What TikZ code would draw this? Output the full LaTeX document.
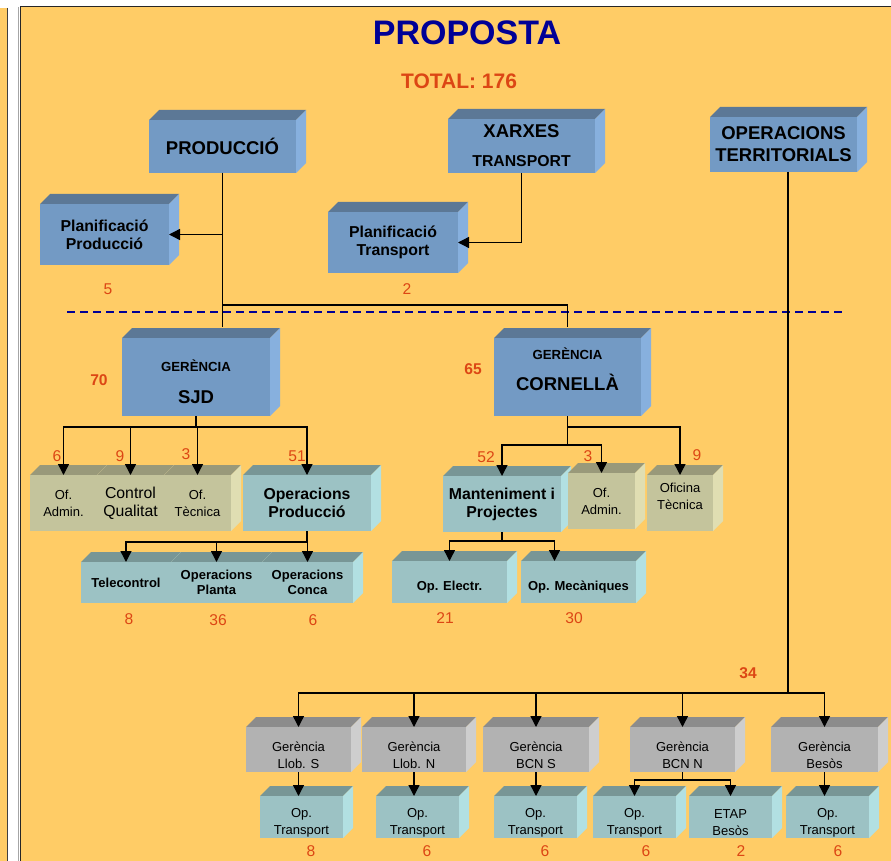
\documentclass[tikz,border=0pt]{standalone}
\usepackage{fontspec}
\setmainfont{Liberation Sans}
\usetikzlibrary{arrows.meta,backgrounds}

\definecolor{paper}{RGB}{255,204,102}
\definecolor{navy}{RGB}{0,0,150}
\definecolor{numred}{RGB}{220,70,20}
\definecolor{blufront}{RGB}{115,154,196}
\definecolor{blutop}{RGB}{92,120,150}
\definecolor{bluside}{RGB}{135,176,222}
\definecolor{khafront}{RGB}{196,196,156}
\definecolor{khatop}{RGB}{153,153,122}
\definecolor{khaside}{RGB}{224,222,178}
\definecolor{teafront}{RGB}{156,194,196}
\definecolor{teatop}{RGB}{120,150,150}
\definecolor{teaside}{RGB}{178,224,226}
\definecolor{gryfront}{RGB}{178,178,178}
\definecolor{grytop}{RGB}{140,140,140}
\definecolor{gryside}{RGB}{206,206,206}

\tikzset{
  unitbox/.style={inner sep=0pt, outer sep=0pt, anchor=north west, align=center},
  blu/.style={unitbox, fill=blufront},
  kha/.style={unitbox, fill=khafront},
  tea/.style={unitbox, fill=teafront},
  gry/.style={unitbox, fill=gryfront},
  fhead/.style={font=\bfseries\fontsize{18.5}{22}\selectfont},
  fsub/.style={font=\bfseries\fontsize{15.8}{18}\selectfont},
  fsmall/.style={font=\bfseries\fontsize{13}{15.5}\selectfont},
  fplain/.style={font=\fontsize{13}{17}\selectfont},
  headcount/.style={text=numred, font=\fontsize{15.6}{18}\selectfont},
  boldcount/.style={text=numred, font=\bfseries\fontsize{15.6}{18}\selectfont},
  link/.style={black, line width=1.4pt},
  arr/.style={link, -{Triangle[width=11pt,length=11pt]}}
}

\begin{document}
\begin{tikzpicture}[x=1pt, y=-1pt]
    \useasboundingbox (0,0) rectangle (891,861);

    % Title
    \node[text=navy, font=\bfseries\fontsize{34}{40}\selectfont] (title) at (467,33) {PROPOSTA};
    \node[text=numred, font=\bfseries\fontsize{21}{25}\selectfont] (total) at (459,81) {TOTAL: 176};

    % Direccions
    \node[blu, fhead, minimum width=147, minimum height=53] (prod) at (149,120) {PRODUCCIÓ};
    \node[blu, fhead, minimum width=147, minimum height=54] (xarx) at (448,119) {XARXES\\[7pt]{\fontsize{15.8}{18}\selectfont TRANSPORT}};
    \node[blu, fhead, minimum width=147, minimum height=55] (opter) at (710,117) {OPERACIONS\\TERRITORIALS};
    \node[blu, fsub, minimum width=129, minimum height=61] (planp) at (40,204) {Planificació\\Producció};
    \node[blu, fsub, minimum width=130, minimum height=61] (plant) at (328,212) {Planificació\\Transport};

    % Gerencies
    \node[blu, fhead, minimum width=148, minimum height=78] (gsjd) at (122,338) {{\fontsize{13.2}{15}\selectfont GERÈNCIA}\rule{0pt}{22pt}\\[10pt]SJD};
    \node[blu, fhead, minimum width=147, minimum height=78] (gcorn) at (494,338) {{\fontsize{13.2}{15}\selectfont GERÈNCIA}\\[9pt]CORNELLÀ\rule[-16pt]{0pt}{0pt}};

    % SJD
    \node[kha, fplain, minimum width=67, minimum height=56] (ofadm1) at (30,475) {Of.\\Admin.};
    \node[kha, font=\fontsize{15.8}{17.7}\selectfont, minimum width=67, minimum height=56] (ctrlq) at (97,475) {Control\\Qualitat};
    \node[kha, fplain, minimum width=67, minimum height=56] (oftec1) at (164,475) {Of.\\Tècnica};
    \node[tea, fsub, minimum width=128, minimum height=56] (opprod) at (243,475) {Operacions\\Producció};
    \node[tea, fsmall, minimum width=90, minimum height=41] (telec) at (81,562) {Telecontrol};
    \node[tea, fsmall, minimum width=91, minimum height=41] (opplan) at (171,562) {Operacions\\Planta};
    \node[tea, fsmall, minimum width=91, minimum height=41] (opconc) at (262,562) {Operacions\\Conca};

    % Cornella
    \node[tea, fsub, minimum width=118, minimum height=56] (mant) at (443,476) {Manteniment i\\Projectes};
    \node[kha, fplain, minimum width=67, minimum height=56] (ofadm2) at (568,473) {Of.\\Admin.};
    \node[kha, fplain, minimum width=66, minimum height=56] (oftec2) at (647,475) {Oficina\\Tècnica\rule[-14pt]{0pt}{0pt}};
    \node[tea, fsmall, minimum width=115, minimum height=42] (opelec) at (392,561) {\rule{0pt}{20pt}Op. Electr.};
    \node[tea, fsmall, minimum width=115, minimum height=42] (opmec) at (521,561) {\rule{0pt}{20pt}Op. Mecàniques};

    % Territorials
    \foreach \n/\x/\w/\t in {gls/246/105/Llob. S,gln/362/104/Llob. N,gbs/483/106/BCN S,gbn/630/105/BCN N,gbe/771/107/Besòs}
        \node[gry, fplain, minimum width=\w, minimum height=45] (\n) at (\x,727) {\rule{0pt}{21.5pt}Gerència\\\t};
    \foreach \n/\x in {ot1/260,ot2/376,ot3/494,ot4/593,ot6/786}
        \node[tea, fplain, minimum width=83, minimum height=42] (\n) at (\x,796) {\rule{0pt}{20pt}Op.\\Transport};
    \node[tea, fplain, minimum width=83, minimum height=42] (etap) at (689,796) {\rule{0pt}{20pt}ETAP\\Besòs};

    \begin{scope}[on background layer]
        % Frame
        \fill[white] (0,0) rectangle (891,861);
        \fill[paper] (0,8) rectangle (7,861);
        \draw[black!75, line width=1pt] (7.5,8) -- (7.5,861);
        \fill[paper] (20,7) rectangle (891,861);
        \draw[black!35, line width=1pt] (18.5,7) -- (18.5,861);
        \draw[black!85, line width=1pt] (20,6.5) -- (20,861);
        \draw[black!85, line width=1pt] (20,6.5) -- (891,6.5);
        % Box depth
        \foreach \n/\col in {prod/blu,xarx/blu,opter/blu,planp/blu,plant/blu,gsjd/blu,gcorn/blu,%
            ofadm1/kha,ctrlq/kha,oftec1/kha,opprod/tea,mant/tea,ofadm2/kha,oftec2/kha,%
            telec/tea,opplan/tea,opconc/tea,opelec/tea,opmec/tea,%
            gls/gry,gln/gry,gbs/gry,gbn/gry,gbe/gry,ot1/tea,ot2/tea,ot3/tea,ot4/tea,etap/tea,ot6/tea}{
            \fill[fill=\col top] (\n.north west) -- ++(10,-10) -- ([shift={(10,-10)}]\n.north east) -- (\n.north east) -- cycle;
            \fill[fill=\col side] (\n.north east) -- ++(10,-10) -- ([shift={(10,-10)}]\n.south east) -- (\n.south east) -- cycle;
        }
    \end{scope}

    % Dashed split
    \draw[navy, line width=2.2pt, dash pattern=on 8pt off 5pt] (67,312) -- (842,312);

    % Connectors
    \draw[link] (prod.south) -- ++(0,154);
    \draw[link] (prod.south) -- ++(0,132) -| ([yshift=11pt]gcorn.north);
    \draw[arr] (prod.south) |- (planp.east);
    \draw[arr] (xarx.south) |- (plant.east);

    \draw[link] (gsjd.south) -- ++(0,11) coordinate (sjdbus);
    \foreach \n in {ofadm1,ctrlq,oftec1,opprod}
        \draw[arr] (sjdbus) -| (\n.north);
    \draw[link] (opprod.south) -- ++(0,11) coordinate (prodbus);
    \foreach \n in {telec,opplan,opconc}
        \draw[arr] (prodbus) -| (\n.north);

    \draw[link] (gcorn.south) -- ++(0,11) coordinate (cornbus);
    \draw[arr] (cornbus) -| (oftec2.north);
    \draw[link] (cornbus) -- ++(0,18) coordinate (cornbus2);
    \foreach \n in {mant,ofadm2}
        \draw[arr] (cornbus2) -| (\n.north);
    \draw[link] (mant.south) -- ++(0,9) coordinate (mantbus);
    \draw[arr] (mantbus) -| (opelec.north);
    \draw[arr] (mantbus) -| ([xshift=-24pt]opmec.north);

    \draw[link] ([xshift=4.5pt]opter.south) -- ++(0,521) coordinate (terbus);
    \foreach \n in {gls,gln,gbs,gbn,gbe}
        \draw[arr] (terbus) -| (\n.north);
    \foreach \a/\b in {gls/ot1,gln/ot2,gbs/ot3,gbe/ot6}
        \draw[arr] (\a.south) -- (\a.south |- \b.north);
    \draw[link] (gbn.south) -- ++(0,8) coordinate (bcnbus);
    \foreach \n in {ot4,etap}
        \draw[arr] (bcnbus) -| (\n.north);

    % Head counts
    \node[boldcount] (nsjd) at (99,380) {70};
    \node[boldcount] (ncorn) at (473,369) {65};
    \node[boldcount] (nter) at (748,673) {34};
    \foreach \x/\y/\t [count=\i] in {108/289/5,407/289/2,57/456/6,120/456/9,186/454/3,297/456/51,%
        129/619/8,218/620/36,313/620/6,486/457/52,588/456/3,697/455/9,445/618/21,574/618/30,%
        311/851/8,427/851/6,545/851/6,646/851/6,741/851/2,838/851/6}
        \node[headcount] (cnt\i) at (\x,\y) {\t};
\end{tikzpicture}
\end{document}
